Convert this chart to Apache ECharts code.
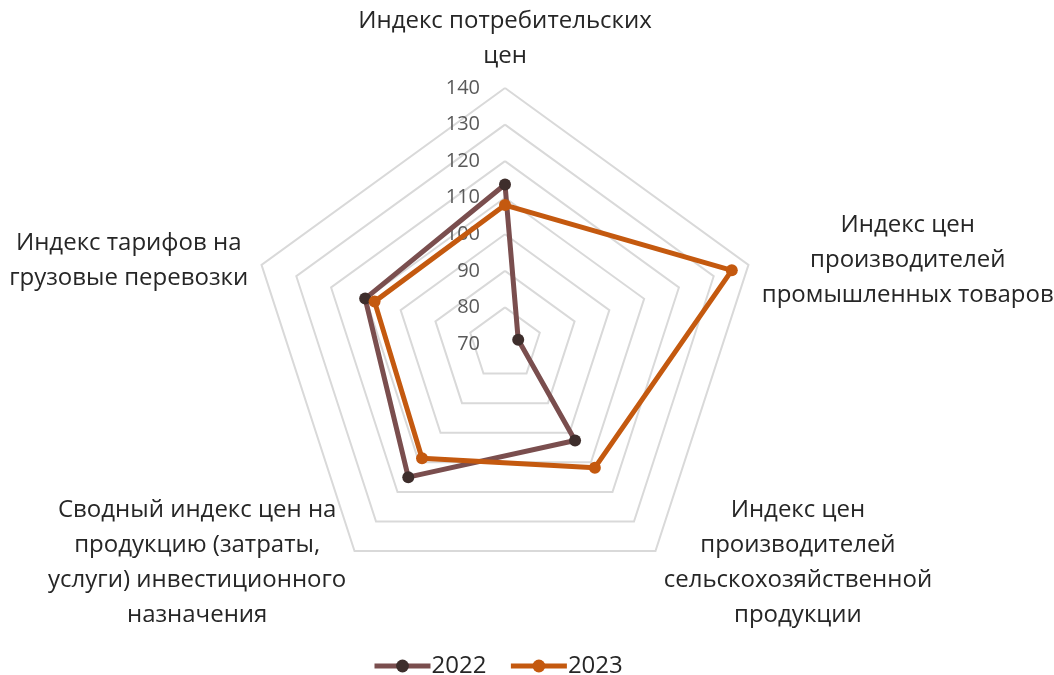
<!DOCTYPE html>
<html>
<head>
<meta charset="utf-8">
<style>html,body{margin:0;padding:0;background:#fff;}#c{width:1054px;height:675px;}</style>
<script src="https://cdn.jsdelivr.net/npm/echarts@6/dist/echarts.min.js"></script>
</head>
<body>
<div id="c"></div>
<script>
// Categories in the reference's clockwise order (top first)
var categories = [
  'Индекс потребительских\nцен',
  'Индекс цен\nпроизводителей\nпромышленных товаров',
  'Индекс цен\nпроизводителей\nсельскохозяйственной\nпродукции',
  'Сводный индекс цен на\nпродукцию (затраты,\nуслуги) инвестиционного\nназначения',
  'Индекс тарифов на\nгрузовые перевозки'
];
var values2022 = [113.6, 73.8, 102.6, 115.0, 110.2];
var values2023 = [108.0, 135.2, 111.8, 108.6, 107.5];
var seriesNames = ['2022', '2023'];
var axisMin = 70, axisMax = 140, axisStep = 10;

// ECharts radar runs counter-clockwise; reorder so the picture runs clockwise
var order = [0, 4, 3, 2, 1];
function reorder(a) { return order.map(function (i) { return a[i]; }); }

var chart = echarts.init(document.getElementById('c'), null, {renderer: 'canvas'});
var fontFam = '"Open Sans", "Noto Sans", sans-serif';
var lineColors = ['#7a4e4e', '#c4590f'];
var markColors = ['#3e2e2c', '#c4590f'];

var indicators = reorder(categories).map(function (name, k) {
  var ind = {name: name, min: axisMin, max: axisMax};
  ind.axisLabel = {show: k === 0};
  return ind;
});

chart.setOption({
  animation: false,
  legend: {
    data: seriesNames,
    top: 649,
    left: 367,
    itemWidth: 56,
    itemHeight: 16,
    itemGap: 22,
    lineStyle: {width: 5},
    textStyle: {fontSize: 24, color: '#262626', fontFamily: fontFam, padding: [0, 0, 0, -4]}
  },
  grid: {left: 0, top: 0, width: 1, height: 1, show: false},
  xAxis: {show: false, type: 'value'},
  yAxis: {show: false, type: 'value'},
  radar: {
    center: [505, 344],
    radius: 256,
    shape: 'polygon',
    splitNumber: (axisMax - axisMin) / axisStep,
    indicator: indicators,
    axisName: {
      color: '#262626',
      fontFamily: fontFam,
      fontSize: 24,
      formatter: function (v) {
        return v.split('\n').map(function (l) { return '{c|' + l + '}'; }).join('\n');
      },
      rich: {c: {align: 'center', fontSize: 24, lineHeight: 35, color: '#262626', fontFamily: fontFam}}
    },
    nameGap: 14,
    axisLine: {show: false},
    axisTick: {show: false},
    splitArea: {show: false},
    splitLine: {lineStyle: {color: '#d9d9d9', width: 2}},
    axisLabel: {show: false, fontSize: 20, color: '#595959', fontFamily: fontFam, margin: 25}
  },
  series: [
    {name: seriesNames[0], type: 'line', data: [], lineStyle: {color: lineColors[0], width: 5}, itemStyle: {color: markColors[0]}, symbol: 'circle', symbolSize: 12},
    {name: seriesNames[1], type: 'line', data: [], lineStyle: {color: lineColors[1], width: 5}, itemStyle: {color: markColors[1]}, symbol: 'circle', symbolSize: 12},
    {
      type: 'radar',
      symbol: 'circle',
      symbolSize: 12,
      data: [
        {name: seriesNames[0], value: reorder(values2022),
         lineStyle: {color: lineColors[0], width: 5}, itemStyle: {color: markColors[0]}},
        {name: seriesNames[1], value: reorder(values2023),
         lineStyle: {color: lineColors[1], width: 5}, itemStyle: {color: markColors[1]}}
      ]
    }
  ]
});
</script>
</body>
</html>
